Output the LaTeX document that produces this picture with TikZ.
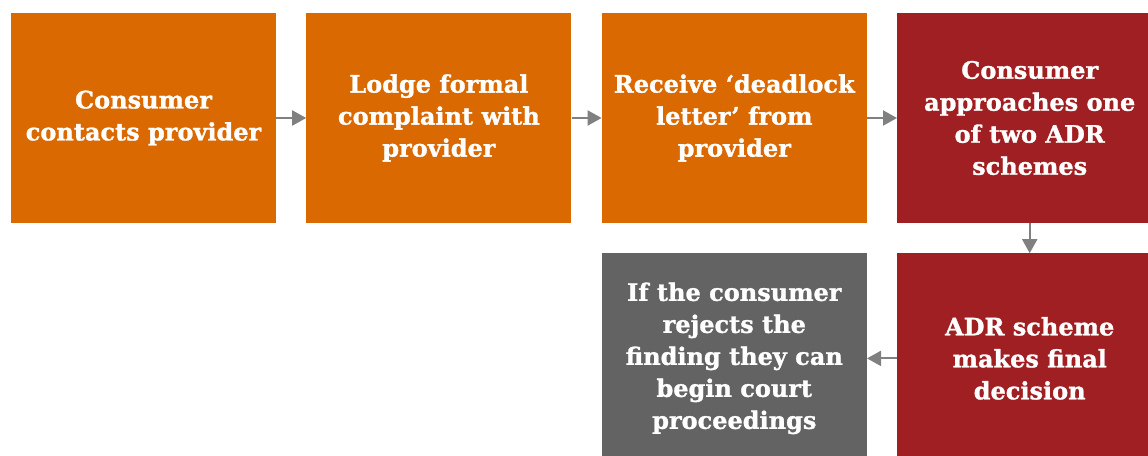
\documentclass[tikz,border=0pt]{standalone}
\usepackage{fontspec}
\setmainfont[BoldFeatures={FakeBold=1.2}]{DejaVu Serif}
\usetikzlibrary{arrows.meta,positioning}
\definecolor{stepOrange}{RGB}{217,105,0}
\definecolor{adrRed}{RGB}{160,31,34}
\definecolor{courtGrey}{RGB}{99,99,99}
\definecolor{linkGrey}{RGB}{128,128,128}

\begin{document}
\begin{tikzpicture}[x=1pt,y=1pt,
  box/.style={minimum width=265pt, minimum height=210pt, inner sep=0pt,
    text=white, align=center, font=\bfseries\fontsize{24}{32}\selectfont},
  link/.style={draw=linkGrey, line width=2pt, -{Triangle[length=14pt,width=15pt]}}]
\useasboundingbox (0,0) rectangle (1148,455);
\clip (0,0) rectangle (1148,455);
% top row
\node [box, fill=stepOrange] (contact) at (143.5,337) {Consumer\\contacts provider};
\node [box, fill=stepOrange, right=30pt of contact] (lodge) {Lodge formal\\complaint with\\provider};
\node [box, fill=stepOrange, right=30pt of lodge] (deadlock) {Receive ‘deadlock\\letter’ from\\provider};
\node [box, fill=adrRed, right=30pt of deadlock] (approach) {Consumer\\approaches one\\of two ADR\\schemes};
% bottom row
\node [box, fill=adrRed, below=30pt of approach] (decision) {ADR scheme\\makes final\\decision};
\node [box, fill=courtGrey, left=30pt of decision] (court) {If the consumer\\rejects the\\finding they can\\begin court\\proceedings};
\draw [link] (contact) -- (lodge);
\draw [link] (lodge) -- (deadlock);
\draw [link] (deadlock) -- (approach);
\draw [link] (approach) -- (decision);
\draw [link] (decision) -- (court);
\end{tikzpicture}
\end{document}
